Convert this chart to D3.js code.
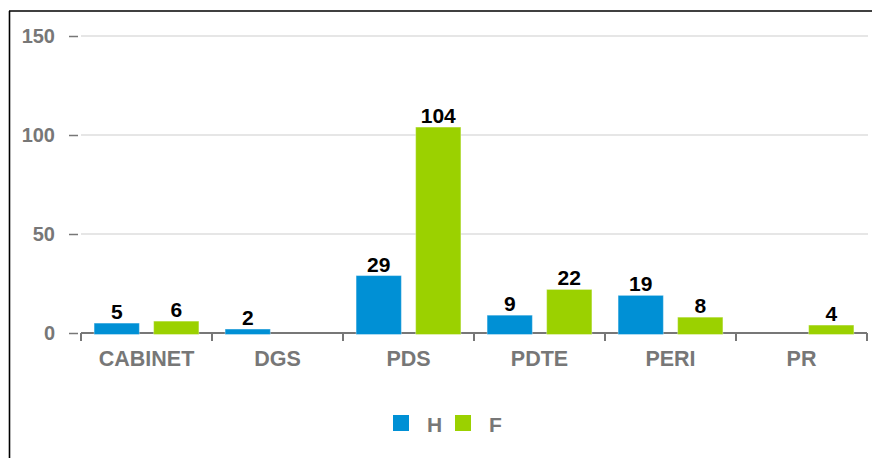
<!DOCTYPE html>
<html lang="en">
<head>
    <meta charset="UTF-8">
    <title>H / F par direction</title>
    <script src="https://cdn.jsdelivr.net/npm/d3@7"></script>
    <style>
        body { margin: 0; background: #fff; }
        svg { display: block; font-family: "Liberation Sans", Arial, sans-serif; }
    </style>
</head>
<body>
    <svg id="chart" width="872" height="458"></svg>

    <script>
        const categories = ["CABINET", "DGS", "PDS", "PDTE", "PERI", "PR"];
        const series = ["H", "F"];
        const valuesH = [5, 2, 29, 9, 19, 0];
        const valuesF = [6, 0, 104, 22, 8, 4];
        const yTicks = [0, 50, 100, 150];

        const colors = { H: "#0090d5", F: "#9bd100" };

        const width = 872;
        const height = 458;
        const margin = { top: 36, right: 5, bottom: 125, left: 81 };

        const svg = d3.select("#chart");

        // frame
        svg.append("line")
            .attr("x1", 9).attr("x2", width).attr("y1", 11).attr("y2", 11)
            .style("stroke", "#000").style("stroke-width", 1.6);
        svg.append("line")
            .attr("x1", 9.5).attr("x2", 9.5).attr("y1", 11).attr("y2", height)
            .style("stroke", "#000").style("stroke-width", 1.6);

        const x0 = d3.scaleBand()
            .domain(categories)
            .range([margin.left, width - margin.right])
            .paddingInner(0.2)
            .paddingOuter(0.1);

        const x1 = d3.scaleBand()
            .domain(series)
            .range([0, x0.bandwidth()])
            .paddingInner(0.24);

        const y = d3.scaleLinear()
            .domain([0, 150])
            .range([height - margin.bottom, margin.top]);

        // grid lines
        svg.append("g")
            .selectAll("line")
            .data(yTicks.filter(d => d > 0))
            .enter()
            .append("line")
            .attr("x1", margin.left)
            .attr("x2", width - margin.right + 1)
            .attr("y1", d => y(d))
            .attr("y2", d => y(d))
            .style("stroke", "#e6e6e6")
            .style("stroke-width", 2);

        // y axis: little dashes + labels
        const yAxis = d3.axisLeft(y)
            .tickValues(yTicks)
            .tickSize(9)
            .tickPadding(14);

        const yg = svg.append("g")
            .attr("transform", `translate(${margin.left - 3},0)`)
            .call(yAxis);
        yg.select(".domain").remove();
        yg.selectAll(".tick line").style("stroke", "#777").style("stroke-width", 1.5);
        yg.selectAll(".tick text")
            .style("font-family", "Liberation Sans, Arial, sans-serif")
            .style("font-size", "20px")
            .style("font-weight", "bold")
            .style("fill", "#777");

        // x axis baseline with ticks on band edges
        const base = y(0);
        const edges = d3.range(categories.length + 1)
            .map(i => x0.range()[0] + i * x0.step());

        svg.append("line")
            .attr("x1", margin.left)
            .attr("x2", width - margin.right)
            .attr("y1", base)
            .attr("y2", base)
            .style("stroke", "#777")
            .style("stroke-width", 2);

        svg.append("g")
            .selectAll("line")
            .data(edges)
            .enter()
            .append("line")
            .attr("x1", d => d)
            .attr("x2", d => d)
            .attr("y1", base)
            .attr("y2", base + 8)
            .style("stroke", "#777")
            .style("stroke-width", 2);

        svg.append("g")
            .selectAll("text")
            .data(categories)
            .enter()
            .append("text")
            .attr("x", d => x0(d) + x0.bandwidth() / 2)
            .attr("y", base + 33)
            .attr("text-anchor", "middle")
            .style("font-size", "21.5px")
            .style("font-weight", "bold")
            .style("fill", "#777")
            .text(d => d);

        // bars
        const rows = categories.map((c, i) => ({ cat: c, H: valuesH[i], F: valuesF[i] }));

        const groups = svg.append("g")
            .selectAll("g")
            .data(rows)
            .enter()
            .append("g")
            .attr("transform", d => `translate(${x0(d.cat)},0)`);

        const cells = groups.selectAll("g")
            .data(d => series.map(s => ({ key: s, value: d[s] })).filter(e => e.value > 0))
            .enter()
            .append("g");

        cells.append("rect")
            .attr("x", d => x1(d.key))
            .attr("y", d => y(d.value))
            .attr("width", x1.bandwidth())
            .attr("height", d => base - y(d.value) + 1.5)
            .style("fill", d => colors[d.key])
            .style("stroke", "rgba(255,255,255,0.35)")
            .style("stroke-width", 1);

        cells.append("text")
            .attr("x", d => x1(d.key) + x1.bandwidth() / 2)
            .attr("y", d => y(d.value) - 4)
            .attr("text-anchor", "middle")
            .style("font-size", "21px")
            .style("font-weight", "bold")
            .style("fill", "#000")
            .text(d => d.value);

        // legend
        const legendPos = [393, 455];
        const legend = svg.append("g")
            .selectAll("g")
            .data(series)
            .enter()
            .append("g")
            .attr("transform", (d, i) => `translate(${legendPos[i]},415)`);

        legend.append("rect")
            .attr("width", 16)
            .attr("height", 16)
            .style("fill", d => colors[d]);

        legend.append("text")
            .attr("x", 34)
            .attr("y", 16.5)
            .style("font-size", "21px")
            .style("font-weight", "bold")
            .style("fill", "#777")
            .text(d => d);
    </script>
</body>
</html>
